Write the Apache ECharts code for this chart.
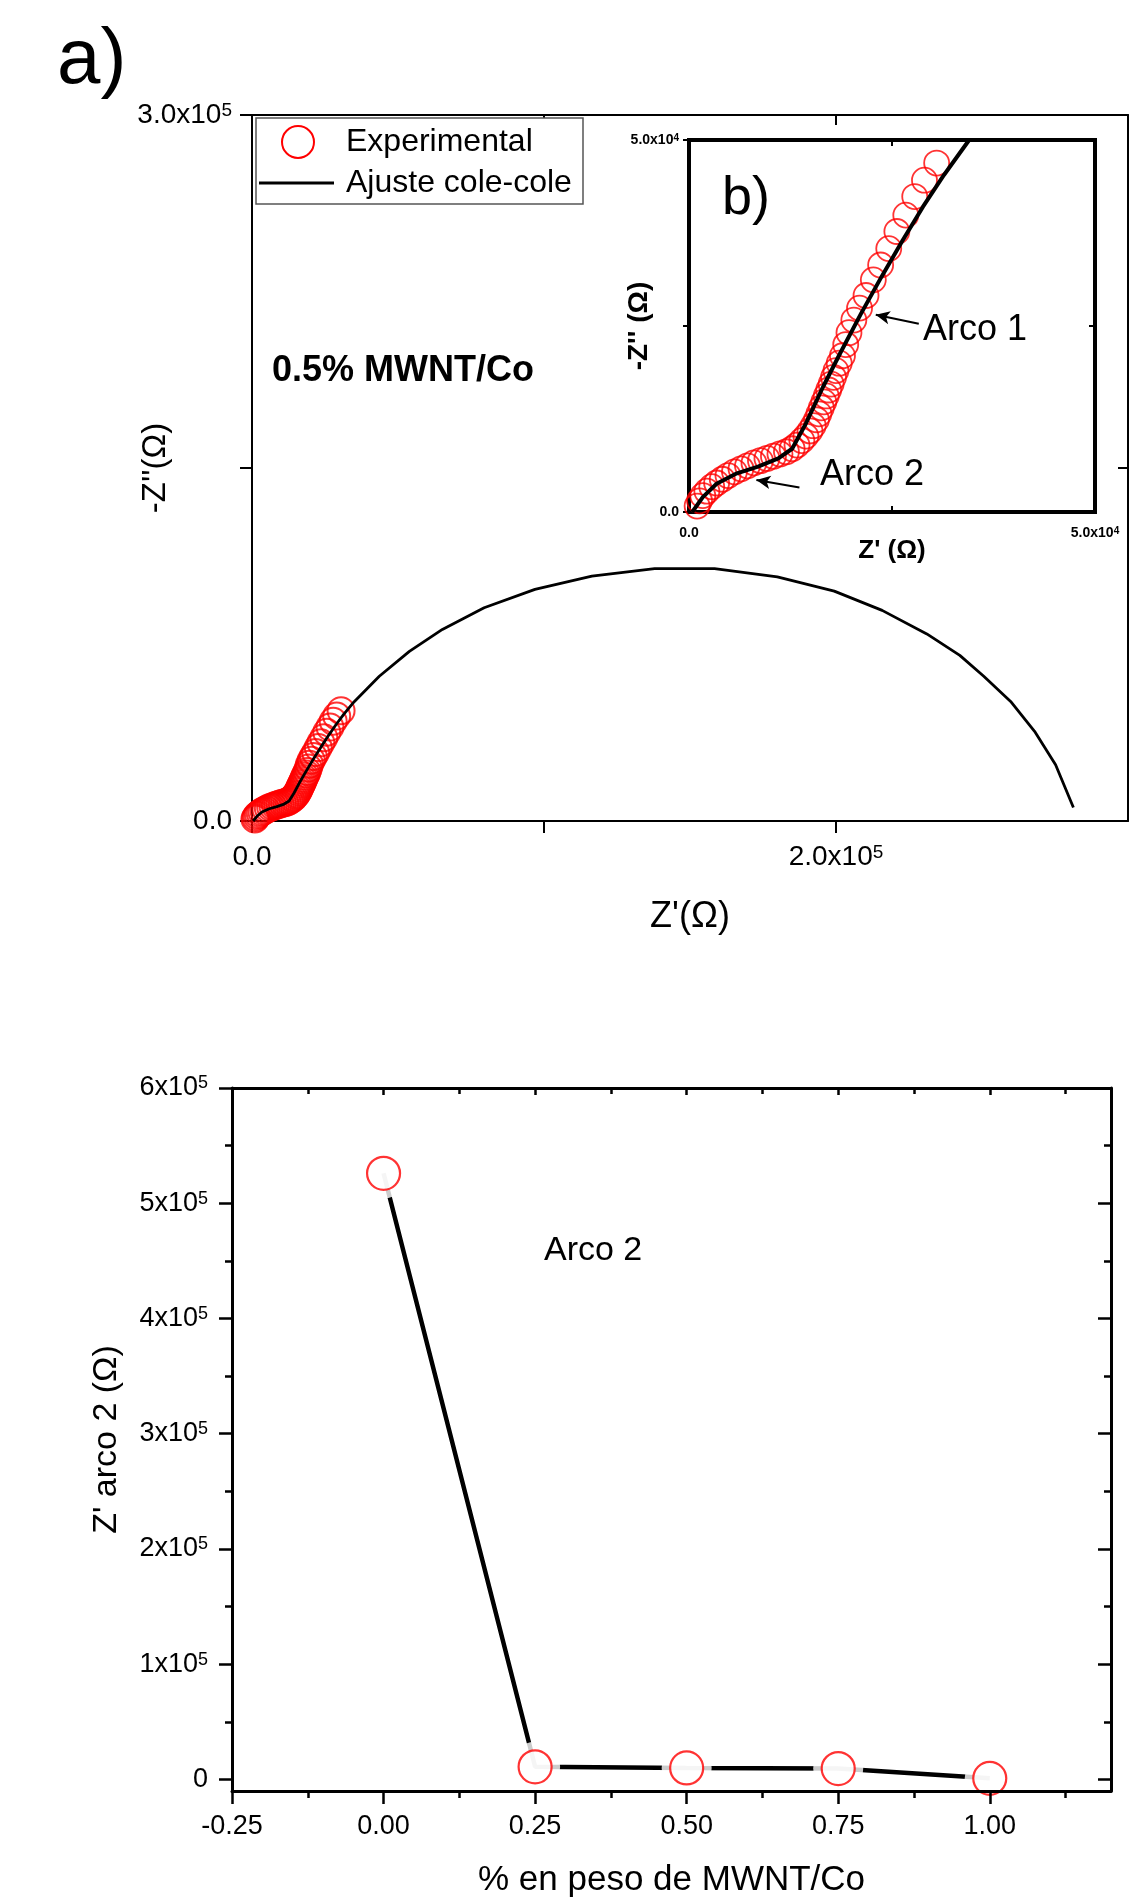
<!DOCTYPE html>
<html><head><meta charset="utf-8">
<script src="https://cdn.jsdelivr.net/npm/echarts@6/dist/echarts.min.js"></script>
<style>html,body{margin:0;padding:0;background:#fff}#c{width:1139px;height:1904px}</style>
</head><body><div id="c"></div>
<script>
// ---------- data: panel a / b (Nyquist, 0.5% MWNT/Co) ----------
const expZre = [1000,1300,1700,2200,2800,3400,4100,4800,5600,6400,7200,8000,8800,9600,10400,11200,12000,12700,13300,13900,14400,14900,15300,15700,16000,16300,16600,16900,17200,17500,17800,18100,18500,18900,19300,19700,20300,21000,21800,22700,23600,24600,25600,26700,27800,29000,30500];
const expZim = [800,1500,2200,2800,3400,3900,4400,4900,5400,5800,6200,6600,6900,7200,7500,7800,8100,8500,9000,9600,10200,10900,11600,12400,13200,14000,14800,15600,16400,17200,18100,19000,20000,21000,22500,24100,25800,27400,29100,31200,33200,35400,37700,39900,42400,44600,46900];
const fitZre = [400,1700,3400,5900,8500,11000,12700,14400,16500,18600,21200,23700,26300,28800,31400,34500,43600,53900,65200,79500,96900,116400,137900,158400,179900,199400,215800,231100,242400,250600,259800,268000,275200,281300];
const fitZim = [0,2000,3800,5200,6100,7200,8500,11900,16800,21300,26700,31600,36500,41000,45300,50000,61500,72100,81400,90600,98400,104100,107200,107200,103700,97700,89500,79500,70400,61500,50800,38100,23900,5700];
// ---------- data: bottom panel ----------
const wtPercent = [0, 0.25, 0.50, 0.75, 1.00];
const zArc2 = [526000, 11000, 10000, 9500, 1000];
// ---------- tick values ----------
const ticksB_x = [-0.25, 0, 0.25, 0.5, 0.75, 1.0];
const ticksB_xMinor = [-0.125, 0.125, 0.375, 0.625, 0.875, 1.125];
const ticksB_y = [0, 100000, 200000, 300000, 400000, 500000, 600000];
const ticksB_yMinor = [50000, 150000, 250000, 350000, 450000, 550000];
const labelsA_x = [0, 200000];
const labelsA_y = [0, 300000];
const labelsInset = [0, 50000];

const FF = "'Liberation Sans', Arial, Helvetica, sans-serif";
const expPairs = expZre.map((x, i) => [x, expZim[i]]);
const fitPairs = fitZre.map((x, i) => [x, fitZim[i]]);
const bPairs = wtPercent.map((x, i) => [x, zArc2[i]]);

function sci(m, e) { return '{m|' + m + 'x10}{e|' + e + '}'; }
function richFor(size, bold) {
  return {
    m: {fontSize: size, fontFamily: FF, fontWeight: bold ? 'bold' : 'normal', color: '#000'},
    e: {fontSize: Math.round(size * 0.68), fontFamily: FF, fontWeight: bold ? 'bold' : 'normal', color: '#000', verticalAlign: 'top'}
  };
}
const blk = '#000';
const line = (w) => ({onZero: false, lineStyle: {color: blk, width: w}});
const noLine = {show: false, onZero: false};

const chart = echarts.init(document.getElementById('c'), null, {renderer: 'canvas'});
const option = {
  backgroundColor: '#fff',
  animation: false,
  grid: [
    {left: 252, top: 115, width: 876, height: 706},
    {left: 689, top: 140, width: 406, height: 372, show: true, backgroundColor: '#fff', borderColor: '#000', borderWidth: 4, z: 5},
    {left: 232, top: 1088, width: 879, height: 703}
  ],
  xAxis: [
    // 0: panel a bottom
    {gridIndex: 0, type: 'value', position: 'bottom', min: 0, max: 300000, interval: 100000,
     axisLine: line(2), splitLine: {show: false},
     axisTick: {inside: false, length: 12, lineStyle: {color: blk, width: 2}},
     axisLabel: {margin: 22, showMaxLabel: false, formatter: v => labelsA_x.includes(v) ? (v === 0 ? '{m|0.0}' : sci((v/1e5).toFixed(1), 5)) : '', rich: richFor(28, false)},
     name: "Z'(Ω)", nameLocation: 'middle', nameGap: 78, nameMoveOverlap: false, nameTextStyle: {fontFamily: FF, fontSize: 36, color: blk}},
    // 1: panel a top
    {gridIndex: 0, type: 'value', position: 'top', min: 0, max: 300000, interval: 100000,
     axisLine: line(2), splitLine: {show: false},
     axisTick: {inside: true, length: 10, lineStyle: {color: blk, width: 2}}, axisLabel: {show: false}},
    // 2: inset bottom
    {gridIndex: 1, type: 'value', position: 'bottom', min: 0, max: 50000, interval: 25000, z: 6,
     axisLine: noLine, splitLine: {show: false},
     axisTick: {inside: true, length: 6, lineStyle: {color: blk, width: 2}},
     axisLabel: {margin: 14, formatter: v => labelsInset.includes(v) ? (v === 0 ? '{m|0.0}' : sci('5.0', 4)) : '', rich: richFor(14, true)},
     name: "Z' (Ω)", nameLocation: 'middle', nameGap: 26, nameMoveOverlap: false, nameTextStyle: {fontFamily: FF, fontSize: 26, fontWeight: 'bold', color: blk}},
    // 3: inset top
    {gridIndex: 1, type: 'value', position: 'top', min: 0, max: 50000, interval: 25000, z: 6,
     axisLine: noLine, splitLine: {show: false},
     axisTick: {inside: true, length: 6, lineStyle: {color: blk, width: 2}}, axisLabel: {show: false}},
    // 4: panel b bottom (major)
    {gridIndex: 2, type: 'value', position: 'bottom', min: -0.25, max: 1.2, z: 10,
     axisLine: line(3), splitLine: {show: false},
     axisTick: {inside: false, length: 13, customValues: ticksB_x, lineStyle: {color: blk, width: 2.5}},
     axisLabel: {margin: 22, customValues: ticksB_x, formatter: v => v.toFixed(2), fontFamily: FF, fontSize: 27, color: blk},
     name: '% en peso de MWNT/Co', nameLocation: 'middle', nameGap: 72, nameMoveOverlap: false, nameTextStyle: {fontFamily: FF, fontSize: 35, color: blk}},
    // 5: panel b bottom (minor)
    {gridIndex: 2, type: 'value', position: 'bottom', min: -0.25, max: 1.2, z: 10,
     axisLine: noLine, splitLine: {show: false},
     axisTick: {inside: false, length: 7, customValues: ticksB_xMinor, lineStyle: {color: blk, width: 2.5}},
     axisLabel: {show: false}},
    // 6: panel b top (major)
    {gridIndex: 2, type: 'value', position: 'top', min: -0.25, max: 1.2, z: 10,
     axisLine: line(3), splitLine: {show: false},
     axisTick: {inside: true, length: 7, customValues: ticksB_x, lineStyle: {color: blk, width: 2.5}},
     axisLabel: {show: false}},
    // 7: panel b top (minor)
    {gridIndex: 2, type: 'value', position: 'top', min: -0.25, max: 1.2, z: 10,
     axisLine: noLine, splitLine: {show: false},
     axisTick: {inside: true, length: 6, customValues: ticksB_xMinor, lineStyle: {color: blk, width: 2.5}},
     axisLabel: {show: false}}
  ],
  yAxis: [
    // 0: panel a left
    {gridIndex: 0, type: 'value', position: 'left', min: 0, max: 300000, interval: 150000,
     axisLine: line(2), splitLine: {show: false},
     axisTick: {inside: false, length: 12, lineStyle: {color: blk, width: 2}},
     axisLabel: {margin: 20, formatter: v => labelsA_y.includes(v) ? (v === 0 ? '{m|0.0}' : sci((v/1e5).toFixed(1), 5)) : '', rich: richFor(28, false)},
     name: "-Z''(Ω)", nameLocation: 'middle', nameGap: 80, nameRotate: 90, nameMoveOverlap: false, nameTextStyle: {fontFamily: FF, fontSize: 33, color: blk}},
    // 1: panel a right
    {gridIndex: 0, type: 'value', position: 'right', min: 0, max: 300000, interval: 150000,
     axisLine: line(2), splitLine: {show: false},
     axisTick: {inside: true, length: 10, lineStyle: {color: blk, width: 2}}, axisLabel: {show: false}},
    // 2: inset left
    {gridIndex: 1, type: 'value', position: 'left', min: 0, max: 50000, interval: 25000, z: 6,
     axisLine: noLine, splitLine: {show: false},
     axisTick: {inside: false, length: 6, lineStyle: {color: blk, width: 2}},
     axisLabel: {margin: 10, formatter: v => labelsInset.includes(v) ? (v === 0 ? '{m|0.0}' : sci('5.0', 4)) : '', rich: richFor(14, true)},
     name: "-Z'' (Ω)", nameLocation: 'middle', nameGap: 36, nameRotate: 90, nameMoveOverlap: false, nameTextStyle: {fontFamily: FF, fontSize: 28, fontWeight: 'bold', color: blk}},
    // 3: inset right
    {gridIndex: 1, type: 'value', position: 'right', min: 0, max: 50000, interval: 25000, z: 6,
     axisLine: noLine, splitLine: {show: false},
     axisTick: {inside: true, length: 6, lineStyle: {color: blk, width: 2}}, axisLabel: {show: false}},
    // 4: panel b left (major)
    {gridIndex: 2, type: 'value', position: 'left', min: -10000, max: 600000, z: 10,
     axisLine: line(3), splitLine: {show: false},
     axisTick: {inside: false, length: 13, customValues: ticksB_y, lineStyle: {color: blk, width: 2.5}},
     axisLabel: {margin: 24, customValues: ticksB_y, formatter: v => v === 0 ? '{m|0}' : sci(Math.round(v/1e5), 5), rich: richFor(27, false)},
     name: "Z' arco 2 (Ω)", nameLocation: 'middle', nameGap: 108, nameRotate: 90, nameMoveOverlap: false, nameTextStyle: {fontFamily: FF, fontSize: 34, color: blk}},
    // 5: panel b left (minor)
    {gridIndex: 2, type: 'value', position: 'left', min: -10000, max: 600000, z: 10,
     axisLine: noLine, splitLine: {show: false},
     axisTick: {inside: false, length: 7, customValues: ticksB_yMinor, lineStyle: {color: blk, width: 2.5}},
     axisLabel: {show: false}},
    // 6: panel b right (major)
    {gridIndex: 2, type: 'value', position: 'right', min: -10000, max: 600000, z: 10,
     axisLine: line(3), splitLine: {show: false},
     axisTick: {inside: true, length: 13, customValues: ticksB_y, lineStyle: {color: blk, width: 2.5}},
     axisLabel: {show: false}},
    // 7: panel b right (minor)
    {gridIndex: 2, type: 'value', position: 'right', min: -10000, max: 600000, z: 10,
     axisLine: noLine, splitLine: {show: false},
     axisTick: {inside: true, length: 7, customValues: ticksB_yMinor, lineStyle: {color: blk, width: 2.5}},
     axisLabel: {show: false}}
  ],
  series: [
    {name: 'Experimental', type: 'scatter', xAxisIndex: 0, yAxisIndex: 0, data: expPairs, symbol: 'circle', symbolSize: 27, z: 2,
     itemStyle: {color: 'rgba(255,255,255,0)', borderColor: '#ff0000', borderWidth: 2}},
    {name: 'Ajuste cole-cole', type: 'line', xAxisIndex: 0, yAxisIndex: 0, data: fitPairs, symbol: 'none', z: 3, clip: true,
     lineStyle: {color: blk, width: 2.8}},
    {name: 'Experimental (inset)', type: 'scatter', xAxisIndex: 2, yAxisIndex: 2, data: expPairs, symbol: 'circle', symbolSize: 25, z: 6,
     itemStyle: {color: 'rgba(255,255,255,0)', borderColor: '#ff0000', borderWidth: 1.8}},
    {name: 'Ajuste (inset)', type: 'line', xAxisIndex: 2, yAxisIndex: 2, data: fitPairs, symbol: 'none', z: 7, clip: true,
     lineStyle: {color: blk, width: 4},
     markLine: {silent: true, symbol: ['none', 'arrow'], symbolSize: [10, 14], label: {show: false},
       lineStyle: {color: blk, width: 2, type: 'solid'},
       data: [
         [{coord: [28300, 25300]}, {coord: [23000, 26500]}],
         [{coord: [13600, 3300]}, {coord: [8300, 4300]}]
       ]}},
    {name: 'Arco 2 line', type: 'line', xAxisIndex: 4, yAxisIndex: 4, data: bPairs, symbol: 'none', z: 2,
     lineStyle: {color: blk, width: 4.5}},
    {name: 'halo', type: 'scatter', xAxisIndex: 4, yAxisIndex: 4, data: bPairs, symbol: 'circle', symbolSize: 50, z: 3,
     itemStyle: {color: '#fff'}},
    {name: 'Arco 2 points', type: 'scatter', xAxisIndex: 4, yAxisIndex: 4, data: bPairs, symbol: 'circle', symbolSize: 33, z: 4,
     itemStyle: {color: '#fff', borderColor: '#ff0000', borderWidth: 2.2}}
  ],
  graphic: [
    {type: 'text', x: 57, y: 61, z: 20, style: {text: 'a)', font: '78px ' + FF, fill: blk, verticalAlign: 'middle'}},
    {type: 'text', x: 272, y: 371, z: 20, style: {text: '0.5% MWNT/Co', font: 'bold 36px ' + FF, fill: blk, verticalAlign: 'middle'}},
    {type: 'rect', z: 20, shape: {x: 256, y: 118, width: 327, height: 86}, style: {fill: '#fff', stroke: '#555', lineWidth: 1.5}},
    {type: 'circle', z: 21, shape: {cx: 298, cy: 142, r: 16}, style: {fill: 'none', stroke: '#ff0000', lineWidth: 2}},
    {type: 'line', z: 21, shape: {x1: 259, y1: 183, x2: 334, y2: 183}, style: {stroke: blk, lineWidth: 3}},
    {type: 'text', x: 346, y: 142, z: 21, style: {text: 'Experimental', font: '32px ' + FF, fill: blk, verticalAlign: 'middle'}},
    {type: 'text', x: 346, y: 183, z: 21, style: {text: 'Ajuste cole-cole', font: '32px ' + FF, fill: blk, verticalAlign: 'middle'}},
    {type: 'text', x: 722, y: 199, z: 21, style: {text: 'b)', font: '54px ' + FF, fill: blk, verticalAlign: 'middle'}},
    {type: 'text', x: 923, y: 330, z: 21, style: {text: 'Arco 1', font: '36px ' + FF, fill: blk, verticalAlign: 'middle'}},
    {type: 'text', x: 820, y: 475, z: 21, style: {text: 'Arco 2', font: '36px ' + FF, fill: blk, verticalAlign: 'middle'}},
    {type: 'text', x: 544, y: 1251, z: 21, style: {text: 'Arco 2', font: '34px ' + FF, fill: blk, verticalAlign: 'middle'}}
  ]
};
chart.setOption(option);
</script>
</body></html>
